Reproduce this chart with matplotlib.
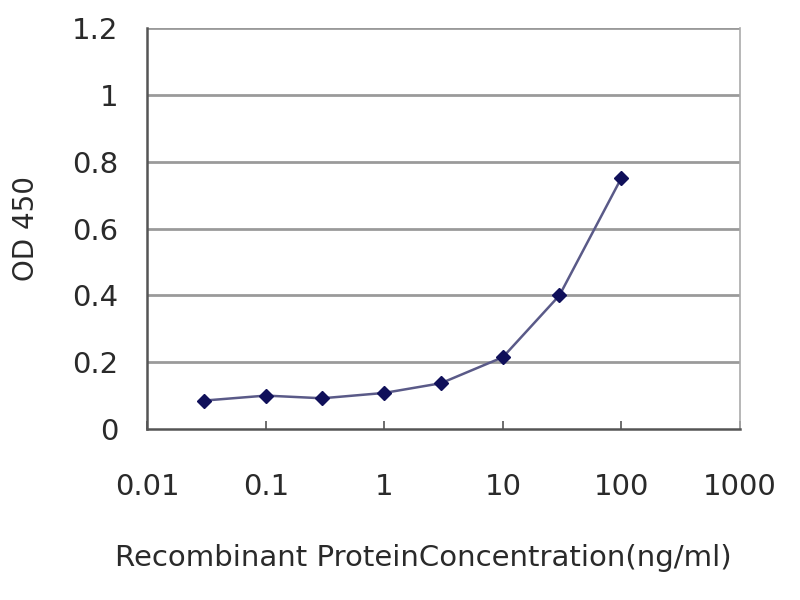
import matplotlib
matplotlib.use("Agg")
import matplotlib.pyplot as plt
from matplotlib.ticker import FixedLocator, NullLocator

plt.rcParams['font.family'] = ['DejaVu Sans']

concentration = [0.03, 0.1, 0.3, 1, 3, 10, 30, 100]
od450 = [0.085, 0.100, 0.092, 0.108, 0.137, 0.215, 0.400, 0.752]
x_ticks = [0.01, 0.1, 1, 10, 100, 1000]
x_tick_labels = ["0.01", "0.1", "1", "10", "100", "1000"]
y_ticks = [0, 0.2, 0.4, 0.6, 0.8, 1.0, 1.2]
y_tick_labels = ["0", "0.2", "0.4", "0.6", "0.8", "1", "1.2"]

fig = plt.figure(figsize=(8, 6), dpi=100)
ax = fig.add_axes([0.184, 0.285, 0.741, 0.668])

ax.set_xscale('log')
ax.set_xlim(0.01, 1000)
ax.set_ylim(0, 1.2)

for yv in y_ticks[1:]:
    ax.axhline(yv, color='#9a9a9a', lw=2, zorder=1)

ax.plot(concentration, od450, color='#5a5a88', lw=1.8, zorder=2)
ax.plot(concentration, od450, linestyle='none', marker='D', markersize=7,
        color='#10105a', zorder=3)

ax.xaxis.set_major_locator(FixedLocator(x_ticks))
ax.xaxis.set_minor_locator(NullLocator())
ax.set_xticklabels(x_tick_labels)
ax.set_yticks(y_ticks)
ax.set_yticklabels(y_tick_labels)

ax.tick_params(axis='x', direction='in', length=6, width=1.2, color='#555555',
               labelsize=21, pad=32, labelcolor='#2a2a2a')
ax.tick_params(axis='y', direction='out', length=0, labelsize=21, pad=21,
               labelcolor='#2a2a2a')

for s in ['left', 'bottom']:
    ax.spines[s].set_color('#555555')
    ax.spines[s].set_linewidth(1.8)
ax.spines['right'].set_color('#aaaaaa')
ax.spines['right'].set_linewidth(1.2)
ax.spines['top'].set_visible(False)

ax.set_xlabel('Recombinant ProteinConcentration(ng/ml)', fontsize=21,
              color='#2a2a2a')
ax.xaxis.set_label_coords(0.465, -0.287)
ax.set_ylabel('OD 450', fontsize=20, color='#2a2a2a')
ax.yaxis.set_label_coords(-0.180, 0.5)

fig.savefig('out.png', dpi=100)
